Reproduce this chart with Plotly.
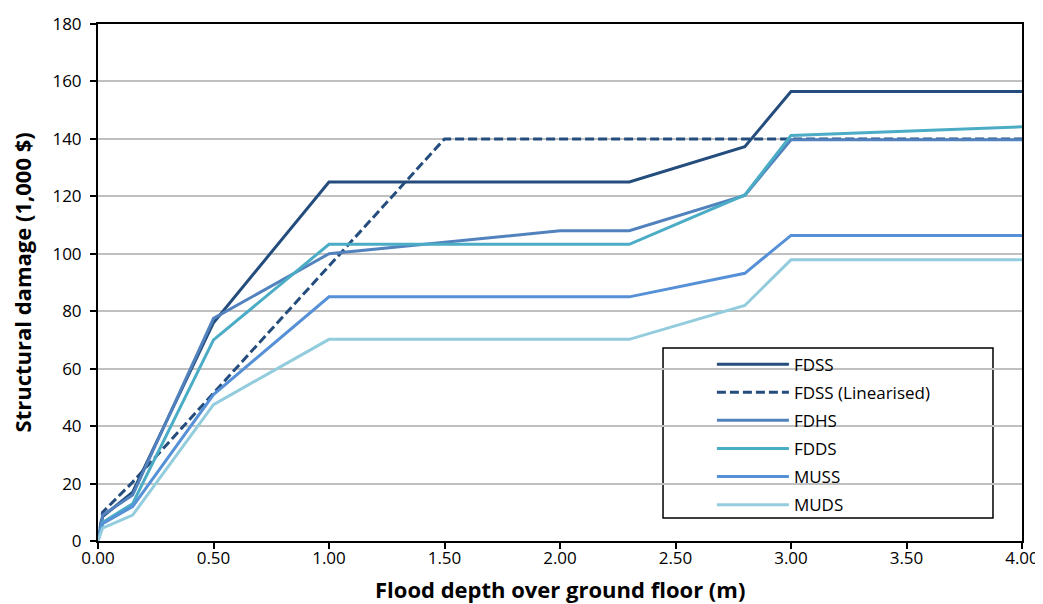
import plotly.graph_objects as go

depth_std = [0, 0.02, 0.15, 0.5, 1.0, 2.3, 2.8, 3.0, 4.0]
depth_fdhs = [0, 0.02, 0.15, 0.5, 1.0, 2.0, 2.3, 2.8, 3.0, 4.0]
depth_lin = [0, 0.02, 0.15, 1.5, 4.0]

fdss = [0, 8.5, 17, 76, 125, 125, 137.3, 156.5, 156.5]
fdss_lin = [0, 10, 20.5, 140, 140]
fdhs = [0, 9, 16, 77.5, 100, 108, 108, 120.3, 139.7, 139.7]
fdds = [0, 6.5, 13, 70, 103.3, 103.3, 120.5, 141.2, 144.2]
muss = [0, 6, 12, 51, 85, 85, 93.2, 106.4, 106.4]
muds = [0, 4.5, 9, 47.5, 70.2, 70.2, 82, 97.9, 97.9]

series = [
    ("FDSS", depth_std, fdss, "#244D7D", "solid"),
    ("FDSS (Linearised)", depth_lin, fdss_lin, "#244D7D", "9px,4px"),
    ("FDHS", depth_fdhs, fdhs, "#5282BE", "solid"),
    ("FDDS", depth_std, fdds, "#4BACC6", "solid"),
    ("MUSS", depth_std, muss, "#5690D6", "solid"),
    ("MUDS", depth_std, muds, "#93CDDD", "solid"),
]

x_ticks = [0, 0.5, 1.0, 1.5, 2.0, 2.5, 3.0, 3.5, 4.0]
y_ticks = [0, 20, 40, 60, 80, 100, 120, 140, 160, 180]

x_title = "Flood depth over ground floor (m)"
y_title = "Structural damage (1,000 $)"

fig = go.Figure()
for name, xs, ys, color, dash in series:
    fig.add_trace(go.Scatter(
        x=xs, y=ys, name=name, mode="lines", legendgroup=name,
        line=dict(color=color, width=3, dash=dash),
    ))

FONT = "Open Sans, sans-serif"

fig.update_layout(
    width=1043, height=596,
    margin=dict(l=90, r=29, t=16, b=63),
    paper_bgcolor="white", plot_bgcolor="white",
    font=dict(family=FONT, size=17, color="black"),
    showlegend=True,
    legend=dict(
        x=0.6644, y=0.376, xanchor="left", yanchor="top",
        borderwidth=0, bgcolor="rgba(0,0,0,0)",
        font=dict(size=17, family=FONT),
        itemwidth=72, traceorder="grouped", tracegroupgap=3,
    ),
    xaxis=dict(
        range=[0, 4], tickvals=x_ticks, tickformat=".2f", automargin=False,
        showgrid=False, zeroline=False,
        showline=True, linecolor="black", linewidth=2, mirror=True,
        ticks="outside", ticklen=6, tickwidth=2, tickcolor="black",
        ticklabelstandoff=-5, ticklabeloverflow="allow",
    ),
    yaxis=dict(
        range=[0, 180], tickvals=y_ticks, automargin=False,
        showgrid=True, gridcolor="#C0C0C0", gridwidth=1.5, zeroline=False,
        showline=True, linecolor="black", linewidth=2, mirror=True,
        ticks="outside", ticklen=6, tickwidth=2, tickcolor="black",
        ticklabelstandoff=5,
    ),
    shapes=[dict(
        type="rect", xref="paper", yref="paper",
        x0=0.6115, x1=0.9686, y0=0.0445, y1=0.3733,
        line=dict(color="black", width=1.5), fillcolor="white", layer="between",
    )],
    annotations=[
        dict(text="<b>" + x_title + "</b>", xref="paper", yref="paper",
             x=0.5, y=-0.0928, xanchor="center", yanchor="middle", showarrow=False,
             font=dict(size=22, family=FONT)),
        dict(text="<b>" + y_title + "</b>", xref="paper", yref="paper",
             x=-0.0823, y=0.5, xanchor="center", yanchor="middle", showarrow=False,
             textangle=-90, font=dict(size=22, family=FONT)),
    ],
)

fig.write_html("out.html")
